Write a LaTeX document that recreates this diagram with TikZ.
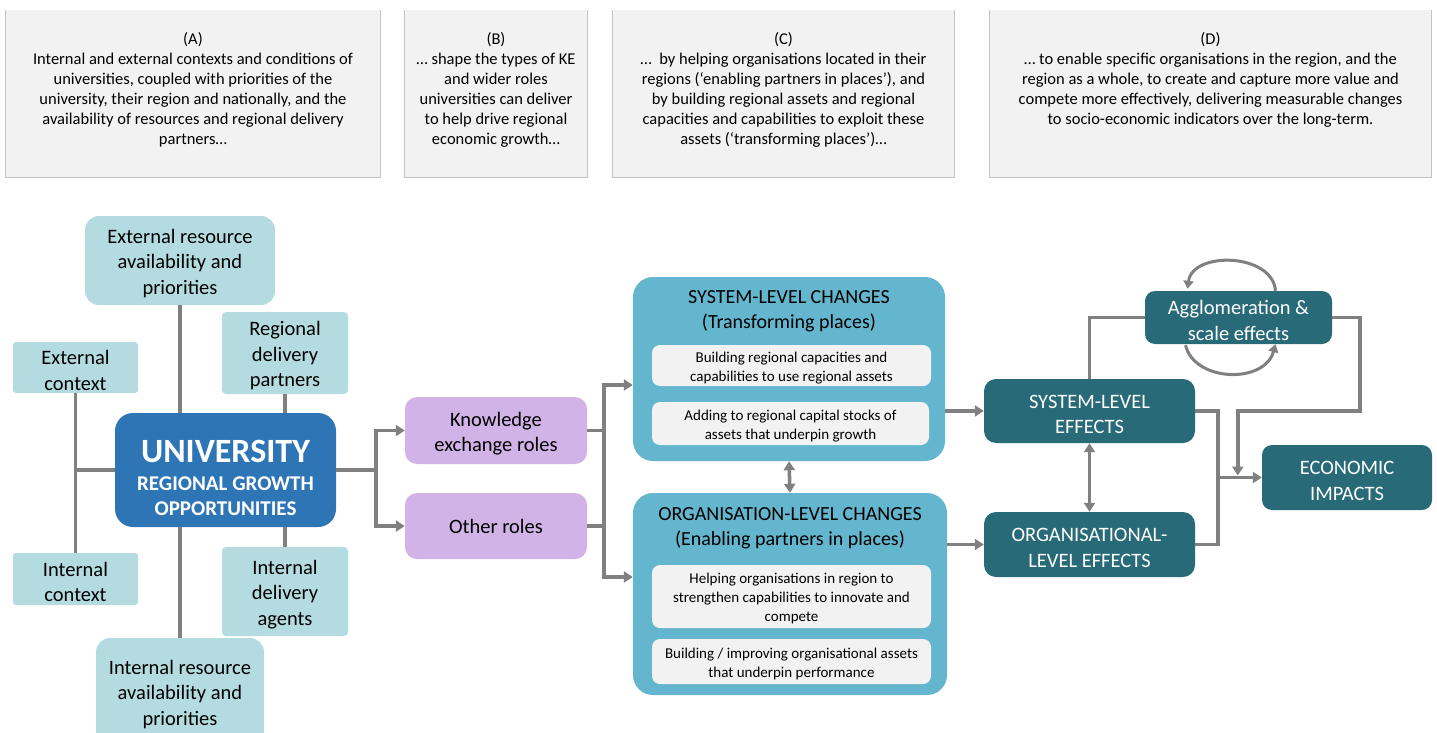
\documentclass[tikz,border=0pt]{standalone}
\usepackage{fontspec}
\setmainfont{Carlito}
\usetikzlibrary{arrows.meta,calc}
\definecolor{panelgray}{HTML}{F2F2F2}
\definecolor{panelline}{HTML}{C4C4C4}
\definecolor{lightteal}{HTML}{B4DCE0}
\definecolor{unblue}{HTML}{2E75B6}
\definecolor{lilac}{HTML}{D2B3E8}
\definecolor{midteal}{HTML}{64B6CE}
\definecolor{darkteal}{HTML}{286A78}
\definecolor{linegray}{HTML}{808080}
\definecolor{innerfill}{HTML}{F2F2F2}

% taller first line so multi-line labels sit centred like office text boxes
\newcommand{\topstrut}{\rule{0pt}{0.98em}}

\tikzset{
  sz/.style 2 args={minimum width=#1pt, minimum height=#2pt},
  panel/.style={fill=panelgray, inner sep=0pt},
  paneltext/.style={align=center, inner sep=0pt, font=\fontsize{16.5}{20}\selectfont},
  tealbox/.style={fill=lightteal, inner sep=0pt, align=center, font=\fontsize{20.5}{25.5}\selectfont},
  rolebox/.style={fill=lilac, rounded corners=12pt, inner sep=0pt, align=center, font=\fontsize{20.5}{25.5}\selectfont},
  changebox/.style={fill=midteal, rounded corners=20pt, inner sep=0pt},
  titletext/.style={align=center, inner sep=0pt, font=\fontsize{20}{25}\selectfont},
  innerbox/.style={fill=innerfill, rounded corners=8pt, inner sep=0pt, align=center, font=\fontsize{15}{19}\selectfont},
  effectbox/.style={fill=darkteal, rounded corners=12pt, inner sep=0pt, align=center, text=white, font=\fontsize{20.5}{25.5}\selectfont},
  conn/.style={draw=linegray, line width=3.5pt},
  arr/.style={draw=linegray, line width=3.5pt, -{Triangle[length=9pt,width=11pt]}},
  dblarr/.style={draw=linegray, line width=3.5pt, {Triangle[length=9pt,width=11pt]}-{Triangle[length=9pt,width=11pt]}},
  looparr/.style={draw=linegray, line width=3pt, -{Triangle[length=8pt,width=10pt]}},
}

\begin{document}
\begin{tikzpicture}[x=1pt,y=-1pt]
\useasboundingbox (0,0) rectangle (1437,733);

% ---- explanatory panels along the top ----
\node[panel, sz={374}{167}] (boxA) at (193,93.5) {};
\node[panel, sz={182}{167}] (boxB) at (496,93.5) {};
\node[panel, sz={341}{167}] (boxC) at (783.5,93.5) {};
\node[panel, sz={441}{167}] (boxD) at (1210.5,93.5) {};
\foreach \b in {boxA,boxB,boxC,boxD}
  \draw[panelline, line width=0.8pt] (\b.north west) |- (\b.south east) -- (\b.north east);

\node[paneltext] (txtA) at (193,90) {(A)\\Internal and external contexts and conditions of\\universities, coupled with priorities of the\\university, their region and nationally, and the\\availability of resources and regional delivery\\partners…};
\node[paneltext] (txtB) at (496,90) {(B)\\… shape the types of KE\\and wider roles\\universities can deliver\\to help drive regional\\economic growth…};
\node[paneltext] (txtC) at (783.5,90) {(C)\\…\ \ by helping organisations located in their\\regions (‘enabling partners in places’), and\\by building regional assets and regional\\capacities and capabilities to exploit these\\assets (‘transforming places’)…};
\node[paneltext] (txtD) at (1210.5,80) {(D)\\… to enable specific organisations in the region, and the\\region as a whole, to create and capture more value and\\compete more effectively, delivering measurable changes\\to socio-economic indicators over the long-term.};

% ---- the university and its contexts ----
\node[tealbox, sz={190}{89}, rounded corners=14pt] (extres) at (180,260.5) {\topstrut External resource\\availability and\\priorities};
\node[tealbox, sz={126}{82}, rounded corners=4pt] (rdp) at (285,353) {\topstrut Regional\\delivery\\partners};
\node[tealbox, sz={125}{51}, rounded corners=3pt] (extctx) at (75.5,367.5) {\topstrut External\\context};
\node[fill=unblue, sz={221}{114}, rounded corners=18pt, inner sep=0pt] (univ) at (225.5,470) {};
\node[align=center, text=white, inner sep=0pt, font=\bfseries\fontsize{21}{25}\selectfont] (univtxt) at (225.5,478) {{\fontsize{34}{34}\selectfont UNIVERSITY}\\[3pt]REGIONAL GROWTH\\OPPORTUNITIES};
\node[tealbox, sz={125}{52}, rounded corners=3pt] (intctx) at (75.5,579) {\topstrut Internal\\context};
\node[tealbox, sz={126}{89}, rounded corners=4pt] (ida) at (285,591.5) {\topstrut Internal\\delivery\\agents};
\node[tealbox, sz={168}{107}, rounded corners=14pt] (intres) at (180,691.5) {\topstrut Internal resource\\availability and\\priorities};

\draw[conn] (extres.south) -- (extres.south |- univ.north);
\draw[conn] (rdp.south) -- (rdp.south |- univ.north);
\draw[conn] (extctx.south) -- (intctx.north);
\draw[conn] (univ.west) -- (univ.west -| extctx.south);
\draw[conn] (intres.north) -- (intres.north |- univ.south);
\draw[conn] (ida.north) -- (ida.north |- univ.south);

% ---- roles ----
\node[rolebox, sz={182}{67}] (ke) at (496,430.5) {\topstrut Knowledge\\exchange roles};
\node[rolebox, sz={182}{66}] (other) at (496,526) {Other roles};

\draw[arr] (univ.east) -- ++(40,0) |- (ke.west);
\draw[arr] (univ.east) -- ++(40,0) |- (other.west);

% ---- changes ----
\node[changebox, sz={312}{184}] (sys) at (789,369) {};
\node[titletext] (systitle) at (789,311.5) {SYSTEM-LEVEL CHANGES\\(Transforming places)};
\node[innerbox, sz={279}{41}] (sysA) at (791.5,365.5) {\topstrut Building regional capacities and\\capabilities to use regional assets};
\node[innerbox, sz={277}{43}] (sysB) at (790.5,423.5) {\topstrut Adding to regional capital stocks of\\assets that underpin growth};

\node[changebox, sz={314}{202}] (org) at (790,594) {};
\node[titletext] (orgtitle) at (790,528.5) {ORGANISATION-LEVEL CHANGES\\(Enabling partners in places)};
\node[innerbox, sz={279}{63}] (orgA) at (791.5,596.5) {\topstrut Helping organisations in region to\\strengthen capabilities to innovate and\\compete};
\node[innerbox, sz={279}{45}] (orgB) at (791.5,661.5) {\topstrut Building / improving organisational assets\\that underpin performance};

\coordinate (split) at ($(ke.east)!0.5!(other.east)+(17,0)$);
\coordinate (sysin) at ($(sys.west)+(0,16)$);
\coordinate (orgin) at ($(org.west)+(0,-17)$);
\draw[conn] (ke.east) -- (ke.east -| split);
\draw[conn] (other.east) -- (other.east -| split);
\draw[arr] (split) |- (sysin);
\draw[arr] (split) |- (orgin);
\draw[dblarr] (sys.south) -- (org.north);

% ---- effects and impacts ----
\node[effectbox, sz={211}{64}] (syseff) at (1089.5,411) {\topstrut SYSTEM-LEVEL\\EFFECTS};
\node[effectbox, sz={211}{65}] (orgeff) at (1089.5,544.5) {\topstrut ORGANISATIONAL-\\LEVEL EFFECTS};
\node[effectbox, sz={187}{53}, rounded corners=10pt] (agg) at (1238.5,317.5) {\topstrut Agglomeration \&\\scale effects};
\node[effectbox, sz={170}{65}, rounded corners=10pt] (econ) at (1347,477.5) {\topstrut ECONOMIC\\IMPACTS};

\draw[arr] (sys.east |- syseff.west) -- (syseff.west);
\draw[arr] (org.east |- orgeff.west) -- (orgeff.west);
\draw[dblarr] (syseff.south) -- (orgeff.north);
\draw[conn] (syseff.north) |- (agg.west);

\coordinate (mergex) at ($(syseff.east)+(23,0)$);
\coordinate (dropin) at ($(econ.west)+(-24,-2)$);
\draw[conn] (syseff.east) -- (mergex) |- (orgeff.east);
\draw[arr] (mergex |- econ.west) -- (econ.west);
\draw[arr] (agg.east) -- ++(28,0) -- ++(0,93.5) -| (dropin);

% self-reinforcing loop around the agglomeration box
\draw[looparr] ($(agg.north)+(37,0)$) .. controls ($(agg.north)+(34,-38)$) and ($(agg.north)+(-46,-40)$) .. ($(agg.north)+(-51,-2)$);
\draw[looparr] ($(agg.south)+(-53,1)$) .. controls ($(agg.south)+(-44,38)$) and ($(agg.south)+(26,40)$) .. ($(agg.south)+(37,0)$);
\end{tikzpicture}
\end{document}
